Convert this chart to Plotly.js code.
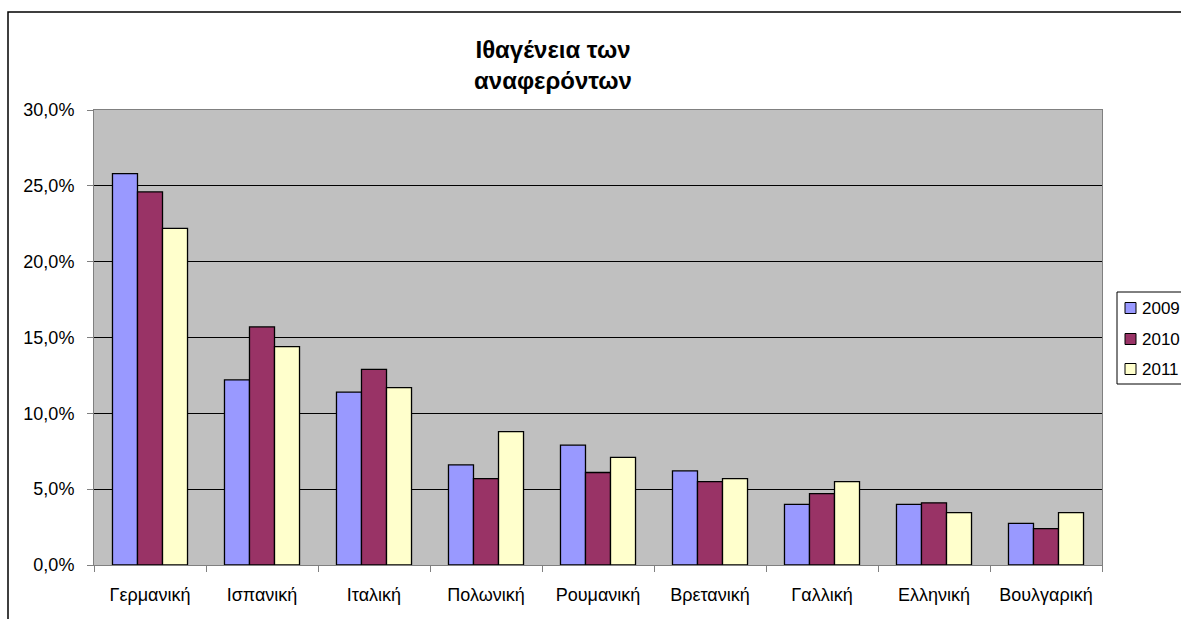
<!DOCTYPE html>
<html>
<head>
<meta charset="utf-8">
<script src="https://cdn.plot.ly/plotly-3.0.1.min.js"></script>
<style>html,body{margin:0;padding:0;background:#fff;}#chart{width:1181px;height:619px;}</style>
</head>
<body>
<div id="chart"></div>
<script>
const categories = ["Γερμανική","Ισπανική","Ιταλική","Πολωνική","Ρουμανική","Βρετανική","Γαλλική","Ελληνική","Βουλγαρική"];
const seriesNames = ["2009","2010","2011"];
const values2009 = [25.8, 12.2, 11.4, 6.6, 7.9, 6.2, 4.0, 4.0, 2.75];
const values2010 = [24.6, 15.7, 12.9, 5.7, 6.1, 5.5, 4.7, 4.1, 2.4];
const values2011 = [22.2, 14.4, 11.7, 8.8, 7.1, 5.7, 5.5, 3.45, 3.45];
const colors = ["#9999FF", "#993366", "#FFFFCC"];
const yTicks = [0, 5, 10, 15, 20, 25, 30];
const yTickText = ["0,0%", "5,0%", "10,0%", "15,0%", "20,0%", "25,0%", "30,0%"];

const allValues = [values2009, values2010, values2011];
const traces = allValues.map((v, i) => ({
  type: "bar",
  x: categories,
  y: v,
  name: seriesNames[i],
  showlegend: false,
  marker: {color: colors[i], line: {color: "#000000", width: 1.3}},
  hoverinfo: "x+y+name"
}));

// pixel -> paper helpers (plot area 94..1102 x, 110..565 y)
const PL = 94, PR = 1102, PT = 110, PB = 565;
const px = x => (x - PL) / (PR - PL);
const py = y => (PB - y) / (PB - PT);

const font = "Liberation Sans, Arial, sans-serif";

// Legend drawn as shapes + annotations built from seriesNames / colors
const legendTop = 292, legendBottom = 384, legendLeft = 1117;
const itemY = [308, 339, 369];
const shapes = [{
  type: "rect", xref: "paper", yref: "paper",
  x0: px(8), x1: 1.3, y0: -0.3, y1: py(12),
  line: {color: "#000000", width: 1.5}, fillcolor: "rgba(0,0,0,0)", layer: "below"
}, {
  type: "rect", xref: "paper", yref: "paper",
  x0: px(legendLeft), x1: 1.3, y0: py(legendBottom), y1: py(legendTop),
  line: {color: "#000000", width: 1}, fillcolor: "#ffffff", layer: "above"
}];
const annotations = [];
seriesNames.forEach((n, i) => {
  shapes.push({
    type: "rect", xref: "paper", yref: "paper",
    x0: px(1125), x1: px(1136), y0: py(itemY[i] + 5.5), y1: py(itemY[i] - 5.5),
    line: {color: "#000000", width: 1}, fillcolor: colors[i], layer: "above"
  });
  annotations.push({
    xref: "paper", yref: "paper", x: px(1140), y: py(itemY[i]),
    xanchor: "left", yanchor: "middle", showarrow: false,
    text: n, font: {family: font, size: 17, color: "#000000"}
  });
});

const layout = {
  width: 1181,
  height: 619,
  margin: {l: PL, r: 1181 - PR, t: PT, b: 619 - PB, pad: 0, autoexpand: false},
  paper_bgcolor: "#ffffff",
  plot_bgcolor: "#C0C0C0",
  font: {family: font, size: 18, color: "#000000"},
  showlegend: false,
  title: {
    text: "<b>Ιθαγένεια των<br>αναφερόντων</b>",
    font: {family: font, size: 24, color: "#000000"},
    xref: "container", x: 553 / 1181, xanchor: "center",
    yref: "container", y: 1 - 58 / 619, yanchor: "top"
  },
  barmode: "group",
  bargap: 0.33,
  bargroupgap: 0,
  xaxis: {
    type: "category",
    showgrid: false,
    showline: true, linecolor: "#808080", linewidth: 1, mirror: true,
    ticks: "outside", tickson: "boundaries", ticklen: 6, tickcolor: "#808080", tickwidth: 1,
    ticklabelstandoff: 13,
    tickfont: {family: font, size: 18, color: "#000000"},
    fixedrange: true
  },
  yaxis: {
    range: [0, 30],
    tickmode: "array",
    tickvals: yTicks,
    ticktext: yTickText,
    showgrid: true, gridcolor: "#000000", gridwidth: 1,
    zeroline: false,
    showline: true, linecolor: "#808080", linewidth: 1, mirror: true,
    ticks: "outside", ticklen: 6, tickcolor: "#808080", tickwidth: 1,
    ticklabelstandoff: 9,
    tickfont: {family: font, size: 18, color: "#000000"},
    fixedrange: true
  },
  shapes: shapes,
  annotations: annotations
};

Plotly.newPlot("chart", traces, layout, {displayModeBar: false, staticPlot: true});
</script>
</body>
</html>
